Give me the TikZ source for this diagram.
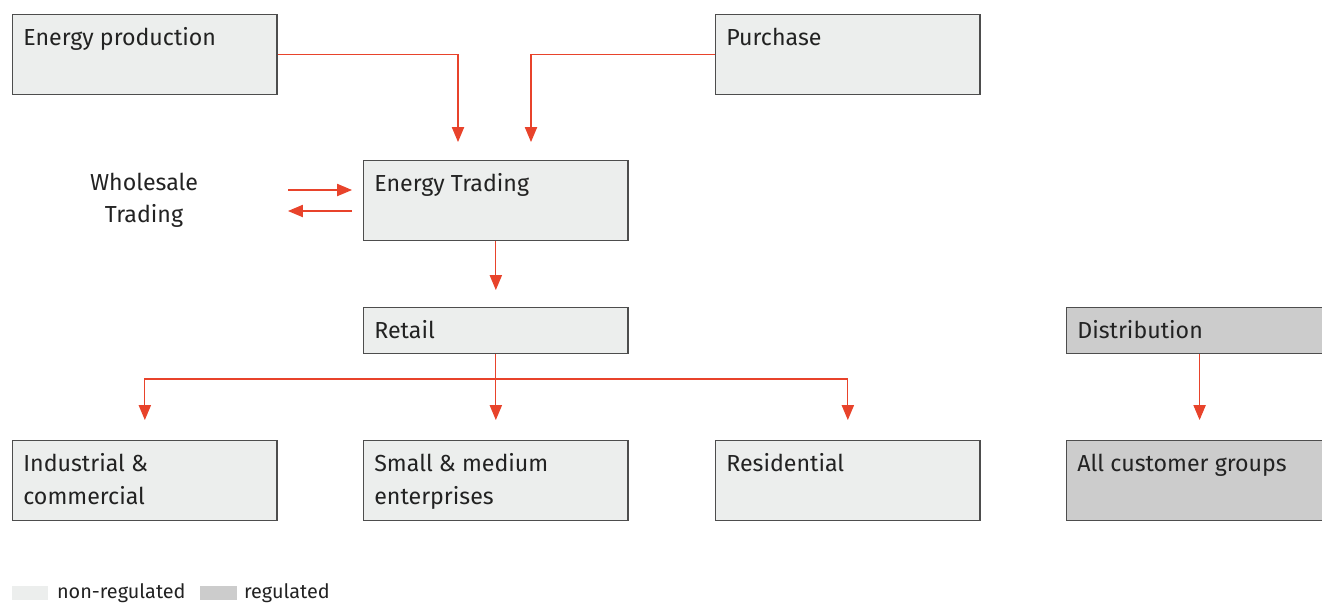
\documentclass[tikz,border=0pt]{standalone}
\usepackage{fontspec}
\setmainfont{Fira Sans}
\usetikzlibrary{arrows.meta,positioning}

\definecolor{unreg}{HTML}{ECEEED}
\definecolor{reg}{HTML}{CCCCCC}
\definecolor{edge}{HTML}{4D4D4D}
\definecolor{flowred}{HTML}{E8432B}
\definecolor{ink}{HTML}{222222}

\tikzset{
  box/.style={draw=edge,line width=0.7pt,fill=unreg,anchor=north west,
    minimum width=5.29cm,minimum height=1.6cm,inner sep=0pt},
  boxtext/.style={anchor=north west,xshift=0.22cm,yshift=-0.27cm,inner sep=0pt,
    align=left,text=ink,font=\fontsize{13.2}{18.4}\selectfont},
  flow/.style={draw=flowred,line width=0.6pt,-{Triangle[length=8.5pt,width=7pt]}},
}

\begin{document}
\begin{tikzpicture}[x=0.02cm,y=-0.02cm]
\useasboundingbox (0,0) rectangle (1322,603);

\node[box,label={[boxtext]north west:Energy production}] (prod) at (12,14) {};
\node[box,label={[boxtext]north west:Purchase}] (purch) at (715,14) {};
\node[box,label={[boxtext]north west:Energy Trading}] (trade) at (363,160) {};
\node[box,minimum height=0.92cm,label={[boxtext]north west:Retail}] (retail) at (363,307) {};
\node[box,fill=reg,minimum width=5.32cm,minimum height=0.92cm,label={[boxtext]north west:Distribution}] (dist) at (1066,307) {};

\node[box,label={[boxtext]north west:Industrial \&\\commercial}] (indus) at (12,440) {};
\node[box,label={[boxtext]north west:Small \& medium\\enterprises}] (sme) at (363,440) {};
\node[box,label={[boxtext]north west:Residential}] (resid) at (715,440) {};
\node[box,fill=reg,minimum width=5.32cm,label={[boxtext]north west:All customer groups}] (allcust) at (1066,440) {};

\node[align=center,text=ink,font=\fontsize{13.2}{18.4}\selectfont] (whole) at (144,200) {Wholesale\\Trading};

% inflow to trading
\coordinate (tradeL) at (458,142);
\coordinate (tradeR) at (531,142);
\draw[flow] (prod.east) -| (tradeL);
\draw[flow] (purch.west) -| (tradeR);

% wholesale exchange
\coordinate (buyA) at (288,190);
\coordinate (buyB) at (352,190);
\coordinate (sellA) at (352,211);
\coordinate (sellB) at (288,211);
\draw[flow] (buyA) -- (buyB);
\draw[flow] (sellA) -- (sellB);

\draw[flow,shorten >=0.34cm] (trade.south) -- (retail.north);

% retail split
\coordinate (split) at (495.5,379);
\draw[flow,shorten >=0.4cm] (retail.south) -- (sme.north);
\draw[flow,shorten >=0.4cm] (split) -| (indus.north);
\draw[flow,shorten >=0.4cm] (split) -| (resid.north);

\draw[flow,shorten >=0.4cm] (dist.south) -- (allcust.north);

% legend
\node[fill=unreg,anchor=north west,minimum width=0.72cm,minimum height=0.28cm,inner sep=0pt] (keyunreg) at (12,586) {};
\node[right=0.16cm of keyunreg,inner sep=0pt,text=ink,font=\fontsize{11.3}{13}\selectfont] {non-regulated};
\node[fill=reg,anchor=north west,minimum width=0.74cm,minimum height=0.28cm,inner sep=0pt] (keyreg) at (200,586) {};
\node[right=0.12cm of keyreg,inner sep=0pt,text=ink,font=\fontsize{11.3}{13}\selectfont] {regulated};
\end{tikzpicture}
\end{document}
